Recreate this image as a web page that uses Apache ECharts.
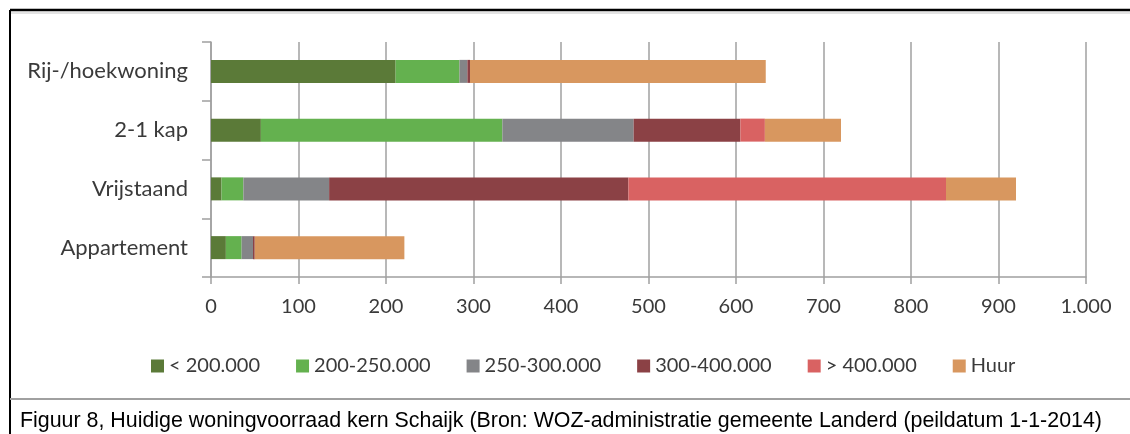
<!DOCTYPE html>
<html>
<head>
<meta charset="utf-8">
<script src="https://cdn.jsdelivr.net/npm/echarts@6/dist/echarts.min.js"></script>
<style>
html,body{margin:0;padding:0;background:#fff;}
#chart{width:1130px;height:434px;}
</style>
</head>
<body>
<div id="chart"></div>
<script>
var categories = ["Rij-/hoekwoning", "2-1 kap", "Vrijstaand", "Appartement"];
var seriesNames = ["< 200.000", "200-250.000", "250-300.000", "300-400.000", "> 400.000", "Huur"];
var lt200 = [211, 57, 12, 17];
var s200_250 = [73, 276, 25, 18];
var s250_300 = [9, 150, 98, 13];
var s300_400 = [3, 122, 342, 2];
var gt400 = [0, 28, 363, 0];
var huur = [338, 87, 80, 171];
var xTicks = [0, 100, 200, 300, 400, 500, 600, 700, 800, 900, 1000];
var caption = "Figuur 8, Huidige woningvoorraad kern Schaijk (Bron: WOZ-administratie gemeente Landerd (peildatum 1-1-2014)";

var colors = ["#5b7a38", "#64b14f", "#848588", "#8b4145", "#d96262", "#d8975f"];
var values = [lt200, s200_250, s250_300, s300_400, gt400, huur];

var chart = echarts.init(document.getElementById('chart'));
var labelColor = '#3a3a3a';
var axisGray = '#a0a0a0';

var series = seriesNames.map(function (n, i) {
  return {
    name: n,
    type: 'bar',
    stack: 'total',
    barWidth: 23,
    itemStyle: { color: colors[i] },
    data: values[i]
  };
});

chart.setOption({
  animation: false,
  color: colors,
  grid: { left: 211, right: 44, top: 42, bottom: 157, containLabel: false },
  legend: {
    data: seriesNames,
    left: 146,
    top: 351,
    itemWidth: 13,
    itemHeight: 13,
    itemGap: 36,
    icon: 'rect',
    textStyle: { fontFamily: 'Lato', fontSize: 20, color: labelColor }
  },
  xAxis: {
    type: 'value',
    min: 0,
    max: 1000,
    interval: 100,
    axisLine: { show: true, lineStyle: { color: axisGray, width: 1.5 } },
    axisTick: { show: true, length: 7, lineStyle: { color: axisGray, width: 1.5 } },
    splitLine: { show: true, lineStyle: { color: axisGray, width: 1.5 } },
    axisLabel: {
      margin: 20,
      fontFamily: 'Lato',
      fontSize: 20,
      color: labelColor,
      formatter: function (v) {
        var idx = xTicks.indexOf(v);
        var t = idx >= 0 ? xTicks[idx] : v;
        return t >= 1000 ? (Math.floor(t / 1000) + '.' + String(t % 1000).padStart(3, '0')) : String(t);
      }
    }
  },
  yAxis: {
    type: 'category',
    inverse: true,
    data: categories,
    axisLine: { show: true, lineStyle: { color: axisGray, width: 1.5 } },
    axisTick: { show: true, length: 9, lineStyle: { color: axisGray, width: 1.5 } },
    axisLabel: { margin: 23, fontFamily: 'Lato', fontSize: 22, color: labelColor }
  },
  graphic: [
    { type: 'line', shape: { x1: 10, y1: 10, x2: 1130, y2: 10 }, style: { stroke: '#000', lineWidth: 2.5 } },
    { type: 'line', shape: { x1: 10, y1: 13, x2: 1130, y2: 13 }, style: { stroke: '#c8c8c8', lineWidth: 1 } },
    { type: 'line', shape: { x1: 10, y1: 10, x2: 10, y2: 434 }, style: { stroke: '#000', lineWidth: 2 } },
    { type: 'line', shape: { x1: 10, y1: 399, x2: 1130, y2: 399 }, style: { stroke: '#a0a0a0', lineWidth: 2 } },
    { type: 'text', left: 20, top: 411, style: { text: caption, font: '21.4px "Liberation Sans"', fill: '#000' } }
  ],
  series: series
});
</script>
</body>
</html>
